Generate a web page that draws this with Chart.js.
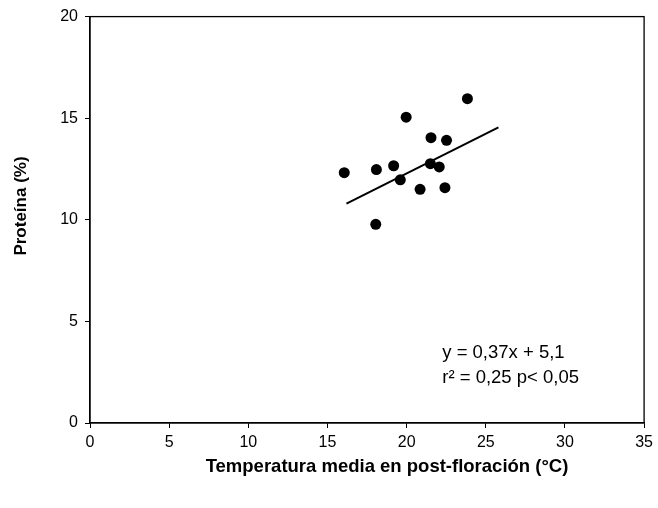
<!DOCTYPE html>
<html>
<head>
<meta charset="utf-8">
<script src="https://cdn.jsdelivr.net/npm/chart.js@4/dist/chart.umd.min.js"></script>
<style>
html,body{margin:0;padding:0;background:#fff;}
#wrap{width:658px;height:508px;}
</style>
</head>
<body>
<div id="wrap"><canvas id="c" width="658" height="508"></canvas></div>
<script>
const tempX = [16.06, 18.09, 19.18, 19.97, 23.84, 21.54, 22.52, 19.60, 21.50, 22.06, 20.85, 22.42, 18.05];
const proteinY = [12.32, 12.47, 12.66, 15.05, 15.96, 14.04, 13.91, 11.97, 12.76, 12.60, 11.50, 11.58, 9.78];
const fitX = [16.2, 25.8];
const fitY = [10.8, 14.55];
const xTicks = [0, 5, 10, 15, 20, 25, 30, 35];
const yTicks = [0, 5, 10, 15, 20];
const xTitle = 'Temperatura media en post-floración (°C)';
const yTitle = 'Proteína (%)';
const annotLines = ['y = 0,37x + 5,1', 'r² = 0,25 p< 0,05'];
const annotPos = {x: 22.25, y: [3.45, 2.22]};

const FONT = '"Liberation Sans", Arial, sans-serif';

const frame = {
  id: 'frame',
  afterDatasetsDraw(chart) {
    const a = chart.chartArea, ctx = chart.ctx;
    ctx.save();
    ctx.strokeStyle = '#000';
    ctx.lineWidth = 1.3;
    ctx.strokeRect(a.left, a.top, a.right - a.left, a.bottom - a.top);
    ctx.fillStyle = '#000';
    ctx.font = '18.5px ' + FONT;
    ctx.textBaseline = 'middle';
    ctx.textAlign = 'left';
    const xs = chart.scales.x, ys = chart.scales.y;
    annotLines.forEach((t, i) => ctx.fillText(t, xs.getPixelForValue(annotPos.x), ys.getPixelForValue(annotPos.y[i])));
    // axis titles
    ctx.textAlign = 'center';
    ctx.font = 'bold 18.5px ' + FONT;
    ctx.fillText(xTitle, 387, 467);
    ctx.translate(21, 206);
    ctx.rotate(-Math.PI / 2);
    ctx.font = 'bold 17px ' + FONT;
    ctx.fillText(yTitle, 0, 0);
    ctx.restore();
  }
};

new Chart(document.getElementById('c'), {
  type: 'scatter',
  data: {
    datasets: [
      {
        data: tempX.map((x, i) => ({x, y: proteinY[i]})),
        backgroundColor: '#000', borderColor: '#000',
        pointRadius: 5.5, pointHoverRadius: 5.5, pointBorderWidth: 0
      },
      {
        type: 'line',
        data: fitX.map((x, i) => ({x, y: fitY[i]})),
        borderColor: '#000', borderWidth: 2, pointRadius: 0, fill: false
      }
    ]
  },
  plugins: [frame],
  options: {
    responsive: false,
    animation: false,
    layout: {padding: {left: 0, right: 10, top: 16, bottom: 0}},
    plugins: {legend: {display: false}, tooltip: {enabled: false}},
    scales: {
      x: {
        type: 'linear', min: 0, max: 35,
        afterBuildTicks: s => { s.ticks = xTicks.map(v => ({value: v})); },
        afterFit: s => { s.height = 85; },
        grid: {display: true, drawOnChartArea: false, drawTicks: true, tickLength: 5, color: '#000', lineWidth: 1},
        border: {display: true, color: '#000', width: 1.3},
        ticks: {color: '#000', font: {family: FONT, size: 16}, padding: 5, maxRotation: 0},
        title: {display: false}
      },
      y: {
        type: 'linear', min: 0, max: 20,
        afterBuildTicks: s => { s.ticks = yTicks.map(v => ({value: v})); },
        afterFit: s => { s.width = 90; },
        grid: {display: true, drawOnChartArea: false, drawTicks: true, tickLength: 5, color: '#000', lineWidth: 1},
        border: {display: true, color: '#000', width: 1.3},
        ticks: {color: '#000', font: {family: FONT, size: 16}, padding: 7},
        title: {display: false}
      }
    }
  }
});
</script>
</body>
</html>
